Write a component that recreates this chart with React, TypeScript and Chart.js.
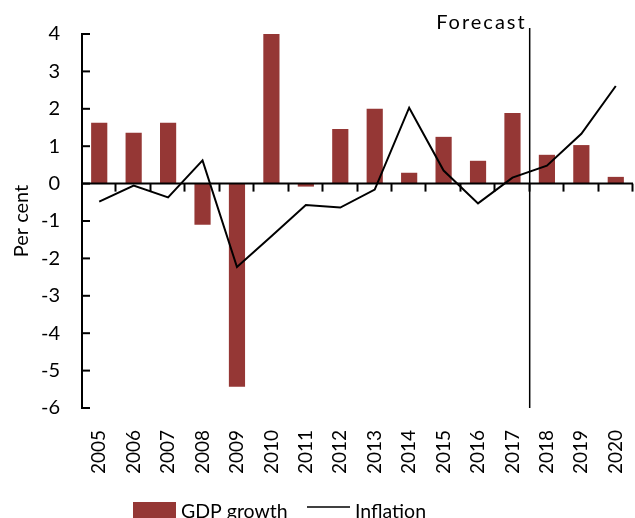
import React, { useEffect, useRef } from "react";
import { Chart, registerables } from "chart.js";

Chart.register(...registerables);

const years = ["2005","2006","2007","2008","2009","2010","2011","2012","2013","2014","2015","2016","2017","2018","2019","2020"];
const gdpGrowth = [1.63, 1.36, 1.63, -1.1, -5.43, 4.02, -0.08, 1.46, 2.0, 0.29, 1.25, 0.61, 1.89, 0.77, 1.03, 0.18];
const inflation = [-0.48, -0.05, -0.37, 0.62, -2.23, -1.41, -0.57, -0.64, -0.16, 2.03, 0.35, -0.53, 0.16, 0.48, 1.33, 2.61];
const yTicks = [-6, -5, -4, -3, -2, -1, 0, 1, 2, 3, 4];
const forecastStart = "2018";
const seriesNames = ["GDP growth", "Inflation"];

const BAR_COLOR = "#953735";
const FONT = "Lato, 'DejaVu Sans', sans-serif";

const axesPlugin = {
  id: "customAxes",
  afterDatasetsDraw(chart: any) {
    const { ctx, chartArea, scales } = chart;
    const x = scales.x;
    const y = scales.y;
    const zeroY = y.getPixelForValue(0);
    const n = years.length;
    const step = (chartArea.right - chartArea.left) / n;
    ctx.save();
    ctx.strokeStyle = "#000";
    ctx.lineWidth = 2;
    // y axis line
    ctx.beginPath();
    ctx.moveTo(chartArea.left, y.getPixelForValue(yTicks[yTicks.length - 1]));
    ctx.lineTo(chartArea.left, y.getPixelForValue(yTicks[0]));
    ctx.stroke();
    // y ticks inward
    yTicks.forEach((v) => {
      const py = y.getPixelForValue(v);
      ctx.beginPath();
      ctx.moveTo(chartArea.left - 1, py);
      ctx.lineTo(chartArea.left + 8, py);
      ctx.stroke();
    });
    // zero line
    ctx.beginPath();
    ctx.moveTo(chartArea.left, zeroY);
    ctx.lineTo(chartArea.right, zeroY);
    ctx.stroke();
    for (let k = 1; k <= n; k++) {
      const px = Math.round(chartArea.left + step * k) - 0.5;
      ctx.beginPath();
      ctx.moveTo(px, zeroY);
      ctx.lineTo(px, zeroY + 8);
      ctx.stroke();
    }
    // forecast line
    const fi = years.indexOf(forecastStart);
    const fx = (x.getPixelForValue(fi - 1) + x.getPixelForValue(fi)) / 2;
    ctx.lineWidth = 1.5;
    ctx.beginPath();
    ctx.moveTo(fx, 28);
    ctx.lineTo(fx, chartArea.bottom);
    ctx.stroke();
    ctx.fillStyle = "#000";
    ctx.font = "20px " + FONT;
    ctx.textAlign = "right";
    ctx.textBaseline = "alphabetic";
    try { (ctx as any).letterSpacing = "2px"; } catch (e) {}
    ctx.fillText("Forecast", fx - 3, 29);
    try { (ctx as any).letterSpacing = "0px"; } catch (e) {}
    // legend
    ctx.fillStyle = BAR_COLOR;
    ctx.fillRect(133, 502, 43, 18);
    ctx.fillStyle = "#000";
    ctx.textAlign = "left";
    ctx.font = "19.5px " + FONT;
    ctx.fillText(seriesNames[0], 181, 518);
    ctx.lineWidth = 1.5;
    ctx.beginPath();
    ctx.moveTo(307, 507);
    ctx.lineTo(350, 507);
    ctx.stroke();
    ctx.fillText(seriesNames[1], 355, 518);
    ctx.restore();
  },
};

export default function App() {
  const ref = useRef<HTMLCanvasElement | null>(null);
  useEffect(() => {
    if (!ref.current) return;
    const chart = new Chart(ref.current, {
      type: "bar",
      data: {
        labels: years,
        datasets: [
          {
            type: "line",
            label: seriesNames[1],
            data: inflation,
            borderColor: "#000",
            backgroundColor: "#000",
            borderWidth: 2,
            pointRadius: 0,
            tension: 0,
            order: 0,
          } as any,
          {
            type: "bar",
            label: seriesNames[0],
            data: gdpGrowth,
            backgroundColor: BAR_COLOR,
            borderWidth: 0,
            barPercentage: 0.47,
            categoryPercentage: 1,
            order: 1,
          },
        ],
      },
      options: {
        responsive: false,
        animation: false,
        devicePixelRatio: 1,
        layout: { padding: { top: 34, right: 2, left: 0, bottom: 0 } },
        plugins: { legend: { display: false }, tooltip: { enabled: false } },
        scales: {
          x: {
            grid: { display: false, drawTicks: false },
            border: { display: false },
            ticks: {
              minRotation: 90,
              maxRotation: 90,
              padding: 22,
              color: "#000",
              font: { family: FONT, size: 19 },
              autoSkip: false,
            },
            afterFit: (s: any) => {
              s.height = 110;
              s.paddingLeft = 0;
              s.paddingRight = 0;
            },
          },
          y: {
            min: -6,
            max: 4,
            grid: { display: false, drawTicks: false },
            border: { display: false },
            ticks: {
              stepSize: 1,
              padding: 22,
              color: "#000",
              font: { family: FONT, size: 20 },
              callback: (v: any) => String(v),
            },
            title: {
              display: true,
              text: "Per cent",
              color: "#000",
              font: { family: FONT, size: 20 },
              padding: { top: 10, bottom: 0 },
            },
            afterFit: (s: any) => {
              s.width = 82;
              s.paddingTop = 0;
              s.paddingBottom = 0;
            },
          },
        },
      },
      plugins: [axesPlugin],
    });
    return () => chart.destroy();
  }, []);
  return (
    <div style={{ position: "fixed", left: 0, top: 0, width: 635, height: 518, background: "#fff" }}>
      <canvas ref={ref} width={635} height={518} />
    </div>
  );
}
